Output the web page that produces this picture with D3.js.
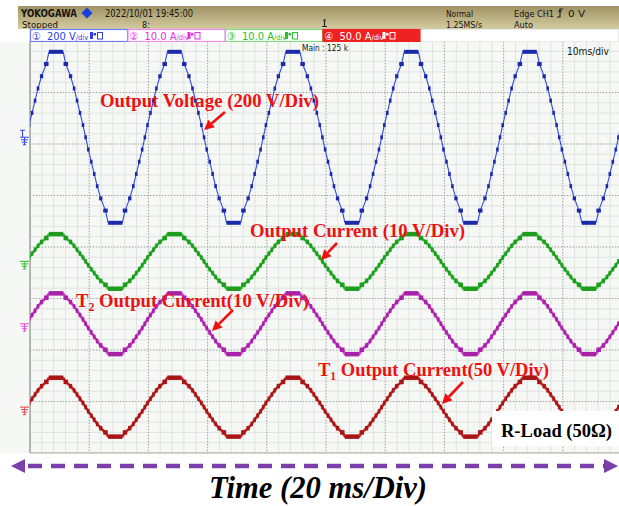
<!DOCTYPE html>
<html><head><meta charset="utf-8">
<script src="https://cdn.jsdelivr.net/npm/d3@7"></script>
<style>body{margin:0;background:#fff}svg{display:block}</style>
</head><body>
<svg id="c" width="619" height="506"></svg>
<script>
// ---------------- data ----------------
// times (ms) of successive troughs / peaks of every trace (10 ms/div on screen)
const extremeTimes = [-5.6, 4.4, 14.4, 24.4, 34.4, 44.4, 54.4, 64.4, 74.4, 84.4, 94.4, 104.4];
// values at those extremes, per channel (physical units)
const voltageExtremes   = [-332, 332, -332, 332, -332, 332, -332, 332, -332, 332, -332, 332]; // V
const outCurrentExtremes = [-5.3, 5.3, -5.3, 5.3, -5.3, 5.3, -5.3, 5.3, -5.3, 5.3, -5.3, 5.3]; // A
const t2CurrentExtremes  = [-5.9, 5.9, -5.9, 5.9, -5.9, 5.9, -5.9, 5.9, -5.9, 5.9, -5.9, 5.9]; // A
const t1CurrentExtremes  = [-28.6, 28.6, -28.6, 28.6, -28.6, 28.6, -28.6, 28.6, -28.6, 28.6, -28.6, 28.6]; // A
// staircase (15-level) switching instants, as fractions of a half cycle
const stepFractions = [0.12, 0.21, 0.28, 0.33, 0.38, 0.43, 0.48, 0.52, 0.57, 0.62, 0.67, 0.72, 0.79, 0.88];
// channel settings
const channelIds   = ["ch1", "ch2", "ch3", "ch4"];
const channelScale = [200, 10.0, 10.0, 50.0];      // units per division
const channelUnit  = ["V", "A", "A", "A"];
const channelGround = [2.13, -1.49, -0.28, -3.11]; // divisions from centre
const channelLabels = ["200", "10.0", "10.0", "50.0"];
const channelGlyph  = ["\u2460", "\u2461", "\u2462", "\u2463"];
const annotations = ["Output Voltage (200 V/Div)", "Output Current (10 V/Div)", " Output Current(10 V/Div)", " Output Current(50 V/Div)"];

// ---------------- drawing ----------------
const svg = d3.select("#c");
const W = 619, H = 506;
const PL = 30, PR = 622, PT = 41, PB = 453;
const x = d3.scaleLinear([0, 100], [PL, PR]);
const y = d3.scaleLinear([-4, 4], [PB, PT]);

const defs = svg.append("defs");
const gr = defs.append("linearGradient").attr("id", "hdr").attr("x1", 0).attr("y1", 0).attr("x2", 0).attr("y2", 1);
gr.append("stop").attr("offset", "0%").attr("stop-color", "#9f9265");
gr.append("stop").attr("offset", "100%").attr("stop-color", "#d4cc9f");
defs.append("clipPath").attr("id", "plotclip").append("rect")
  .attr("x", PL).attr("y", 42).attr("width", W - PL).attr("height", PB - 42);

svg.append("rect").attr("width", W).attr("height", H).attr("fill", "#fff");

// header band
svg.append("rect").attr("x", 18).attr("y", 6).attr("width", W - 18).attr("height", 23).attr("fill", "url(#hdr)");
const hf = "'DejaVu Sans Condensed','Liberation Sans Narrow','DejaVu Sans',sans-serif";
function htext(tx, ty, s, opt = {}) {
  const t = svg.append("text").attr("x", tx).attr("y", ty).text(s)
    .attr("font-family", hf).attr("font-size", opt.size || 10.5)
    .attr("fill", opt.fill || "#151510").attr("font-weight", opt.weight || "normal");
  if (opt.len) t.attr("textLength", opt.len).attr("lengthAdjust", "spacingAndGlyphs");
  return t;
}
htext(21, 17, "YOKOGAWA", {size: 11, weight: "bold", len: 56});
svg.append("path").attr("d", "M87,7.5 L92.5,13 L87,18.5 L81.5,13 Z").attr("fill", "#1a3fe0");
htext(105, 17, "2022/10/01  19:45:00", {size: 10, len: 88});
htext(22, 28, "Stopped", {size: 9, len: 36});
htext(142, 28, "8:", {size: 9});
svg.append("path").attr("d", "M323,20 h3 M324.5,20 v6.5 M322,26.5 h5").attr("stroke", "#222").attr("stroke-width", 1.2).attr("fill", "none");
htext(446, 17, "Normal", {size: 9.5, len: 27});
htext(446, 28, "1.25MS/s", {size: 9, len: 36});
htext(514, 17, "Edge CH1", {size: 9.5, len: 40});
svg.append("path").attr("d", "M557,17 h3 v-8 h3 M558.5,12 l1.5,-2 l1.5,2").attr("stroke", "#222").attr("stroke-width", 1.1).attr("fill", "none");
htext(568, 17, "0 V", {size: 9.5, len: 17});
htext(514, 28, "Auto", {size: 9, len: 19});

// channel bar
svg.append("rect").attr("x", PL).attr("y", 29).attr("width", W - PL).attr("height", 13).attr("fill", "#fff").attr("stroke", "#c8c8c8").attr("stroke-width", 0.8);
const chipColors = ["#2d3fe0", "#e030e0", "#2cc02c", "#ffffff"];
const chipBorder = ["#6d7df0", "#f28af2", "#7ede7e", "#ee2222"];
const chipFill   = ["#ffffff", "#ffffff", "#ffffff", "#ee2222"];
channelIds.forEach((id, i) => {
  const cx = 30 + i * 97.5;
  svg.append("rect").attr("x", cx + 0.5).attr("y", 29.5).attr("width", 97).attr("height", 12)
    .attr("fill", chipFill[i]).attr("stroke", chipBorder[i]).attr("stroke-width", 1.2);
  const t = svg.append("text").attr("x", cx + 2).attr("y", 39.5)
    .attr("font-family", hf).attr("font-size", 11).attr("fill", chipColors[i]);
  t.append("tspan").text(channelGlyph[i]);
  t.append("tspan").attr("x", cx + 17).text(channelLabels[i] + " " + channelUnit[i]);
  t.append("tspan").attr("font-size", 7.5).text("/div");
  svg.append("rect").attr("x", cx + 60).attr("y", 32).attr("width", 3).attr("height", 7).attr("fill", chipColors[i]);
  svg.append("rect").attr("x", cx + 63.5).attr("y", 33).attr("width", 2.5).attr("height", 2.5).attr("fill", chipColors[i]);
  svg.append("rect").attr("x", cx + 67.5).attr("y", 32.5).attr("width", 5).attr("height", 6.5).attr("fill", "none").attr("stroke", chipColors[i]).attr("stroke-width", 1);
});

// plot background + grid
svg.append("rect").attr("x", 0).attr("y", 42).attr("width", W).attr("height", PB - 42).attr("fill", "#f6f8f6");
const grid = svg.append("g").attr("clip-path", "url(#plotclip)");
d3.range(0, 100.01, 2).forEach(t => grid.append("line").attr("x1", x(t)).attr("x2", x(t)).attr("y1", 42).attr("y2", PB).attr("stroke", "#d9ded9").attr("stroke-width", 0.8));
d3.range(-4, 4.01, 0.2).forEach(d => grid.append("line").attr("x1", PL).attr("x2", W).attr("y1", y(d)).attr("y2", y(d)).attr("stroke", "#d9ded9").attr("stroke-width", 0.8));
x.ticks(10).forEach(t => grid.append("line").attr("x1", x(t)).attr("x2", x(t)).attr("y1", 42).attr("y2", PB).attr("stroke", "#9ea49e").attr("stroke-width", 1).attr("stroke-dasharray", "1,2"));
y.ticks(8).forEach(d => grid.append("line").attr("x1", PL).attr("x2", W).attr("y1", y(d)).attr("y2", y(d)).attr("stroke", "#9ea49e").attr("stroke-width", 1).attr("stroke-dasharray", "1,2"));
svg.append("line").attr("x1", PL).attr("x2", PL).attr("y1", 42).attr("y2", PB).attr("stroke", "#8e928e").attr("stroke-width", 1.2);
svg.append("line").attr("x1", PL).attr("x2", W).attr("y1", PB).attr("y2", PB).attr("stroke", "#a8aca8").attr("stroke-width", 1);

htext(302, 50.5, "Main : 125 k", {size: 8, len: 46});
htext(567, 55, "10ms/div", {size: 11, len: 42});

// ground markers (colour by channel: ch1 blue, ch2 magenta, ch3 green, ch4 red)
const markerColors = ["#3a4de0", "#e050e0", "#4cc84c", "#e06060"];
channelIds.forEach((id, i) => {
  const gy = y(channelGround[i]);
  const c = markerColors[i];
  const gm = svg.append("g").attr("stroke", c).attr("stroke-width", 1.1).attr("fill", "none");
  if (i === 0) gm.append("path").attr("d", `M20,${gy - 7} h5 M22.5,${gy - 7} v7`);
  gm.append("path").attr("d", `M20,${gy} h9 M21,${gy + 2.5} h7 M22,${gy + 5} h5 M23,${gy + 7.5} h3 M24.5,${gy} v7.5`);
});

// waveforms
function buildSteps(times, values) {
  const plats = [];
  const n = stepFractions.length;
  for (let i = 0; i < times.length; i++) {
    const t = times[i], v = values[i];
    const hPrev = i > 0 ? t - times[i - 1] : times[i + 1] - t;
    const hNext = i < times.length - 1 ? times[i + 1] - t : hPrev;
    plats.push({t0: t - stepFractions[0] * hPrev, t1: t + stepFractions[0] * hNext, v, ext: true});
    if (i < times.length - 1) {
      const vB = values[i + 1];
      for (let j = 1; j < n; j++) {
        plats.push({t0: t + stepFractions[j - 1] * hNext, t1: t + stepFractions[j] * hNext, v: v + (vB - v) * j / n, ext: false});
      }
    }
  }
  return plats;
}
const traces = [
  {vals: voltageExtremes,   ch: 0, line: "#3347e8", dot: "#1b2aa8", lw: 1.1, dh: 4},
  {vals: outCurrentExtremes, ch: 2, line: "#35c035", dot: "#1d9c1d", lw: 2.6, dh: 4.5},
  {vals: t2CurrentExtremes,  ch: 1, line: "#d040d0", dot: "#a822a8", lw: 2.6, dh: 4.5},
  {vals: t1CurrentExtremes,  ch: 3, line: "#c82a2a", dot: "#a81515", lw: 2.6, dh: 4.5}
];
const wave = svg.append("g").attr("clip-path", "url(#plotclip)");
traces.forEach(tr => {
  const toDiv = v => v / channelScale[tr.ch] + channelGround[tr.ch];
  const plats = buildSteps(extremeTimes, tr.vals);
  const pts = [];
  plats.forEach(p => {
    if (p.ext) { pts.push([p.t0, p.v]); pts.push([p.t1, p.v]); }
    else pts.push([(p.t0 + p.t1) / 2, p.v]);
  });
  const line = d3.line().x(d => x(d[0])).y(d => y(toDiv(d[1])));
  wave.append("path").attr("d", line(pts)).attr("fill", "none")
    .attr("stroke", tr.line).attr("stroke-width", tr.lw).attr("stroke-linejoin", "round");
  wave.selectAll(null).data(plats).enter().append("rect")
    .attr("x", d => { const w = Math.max(x(d.t1) - x(d.t0) - (d.ext ? 0 : 0.8), 2.6); return (x(d.t0) + x(d.t1)) / 2 - w / 2; })
    .attr("width", d => Math.max(x(d.t1) - x(d.t0) - (d.ext ? 0 : 0.8), 2.6))
    .attr("y", d => y(toDiv(d.v)) - tr.dh / 2)
    .attr("height", tr.dh)
    .attr("fill", tr.dot);
});

// annotations
const red = "#ee1111";
const sf = "'Liberation Serif','Times New Roman',serif";
function ann(tx, ty, sub, rest, len) {
  const t = svg.append("text").attr("x", tx).attr("y", ty).attr("font-family", sf)
    .attr("font-weight", "bold").attr("font-size", 19).attr("fill", red);
  if (sub) {
    t.append("tspan").text("T");
    t.append("tspan").attr("font-size", 12).attr("dy", 4).text(sub);
    t.append("tspan").attr("dy", -4).text(rest);
  } else t.text(rest);
  if (len) t.attr("textLength", len).attr("lengthAdjust", "spacingAndGlyphs");
}
ann(100, 107, null, annotations[0], 219);
ann(250, 237, null, annotations[1], 215);
ann(76, 307, "2", annotations[2], 233);
ann(318, 376, "1", annotations[3], 231);
function arrow(x1, y1, x2, y2) {
  const a = Math.atan2(y2 - y1, x2 - x1), L = 10, Wd = 5;
  const bx = x2 - L * Math.cos(a), by = y2 - L * Math.sin(a);
  svg.append("line").attr("x1", x1).attr("y1", y1).attr("x2", bx).attr("y2", by)
    .attr("stroke", red).attr("stroke-width", 2.6);
  svg.append("path").attr("fill", red).attr("d",
    `M${x2},${y2} L${bx + Wd * Math.sin(a)},${by - Wd * Math.cos(a)} L${bx - Wd * Math.sin(a)},${by + Wd * Math.cos(a)} Z`);
}
arrow(225, 112, 204, 130);
arrow(337, 243, 321, 260);
arrow(233, 310, 212, 331);
arrow(463, 382, 442, 404);

// R-Load box
svg.append("rect").attr("x", 492).attr("y", 411).attr("width", W - 492).attr("height", 35).attr("fill", "#fff");
svg.append("text").attr("x", 501).attr("y", 437).attr("font-family", sf).attr("font-weight", "bold")
  .attr("font-size", 19).attr("fill", "#000").attr("textLength", 111).attr("lengthAdjust", "spacingAndGlyphs")
  .text("R-Load (50\u03A9)");

// time axis arrow
const purple = "#7b3fab";
svg.append("line").attr("x1", 24).attr("x2", 606).attr("y1", 466).attr("y2", 466)
  .attr("stroke", purple).attr("stroke-width", 4.5).attr("stroke-dasharray", "14,9").attr("stroke-dashoffset", -4);
svg.append("path").attr("d", "M11,466 L25,459 L25,473 Z").attr("fill", purple);
svg.append("path").attr("d", "M618,466 L604,459 L604,473 Z").attr("fill", purple);
svg.append("text").attr("x", 209).attr("y", 498).attr("font-family", sf).attr("font-weight", "bold")
  .attr("font-style", "italic").attr("font-size", 32).attr("fill", "#000")
  .attr("textLength", 218).attr("lengthAdjust", "spacingAndGlyphs").text("Time (20 ms/Div)");
</script>
</body></html>
